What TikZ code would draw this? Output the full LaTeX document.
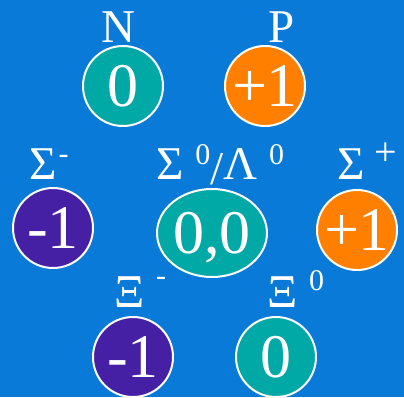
\documentclass[tikz,border=0pt]{standalone}
\usepackage{fontspec}
\setmainfont{Liberation Serif}
\usetikzlibrary{positioning, shapes.geometric}
\definecolor{bgblue}{HTML}{0A7AD9}
\definecolor{quarkteal}{HTML}{00A8A6}
\definecolor{quarkorange}{HTML}{FF8000}
\definecolor{quarkpurple}{HTML}{4520A5}
\newcommand{\chargeup}[2][16pt]{\raisebox{#1}{\fontsize{30}{30}\selectfont #2}}

\begin{document}
\begin{tikzpicture}[x=1pt,y=-1pt,
    charge/.style={circle, draw=white, line width=2pt, inner sep=0pt, minimum size=80pt,
        text=white, font=\fontsize{62}{62}\selectfont, text depth=0pt},
    particle/.style={text=white, font=\fontsize{47}{47}\selectfont, inner sep=0pt}]
    \fill[bgblue] (0,0) rectangle (404,397); %背景
    % 1段目
    \node[charge, fill=quarkteal] (n) at (123,86) {0};
    \node[charge, fill=quarkorange] (p) at (265,86) {+1};
    \node[particle, anchor=base] (nname) at (118,43) {N};
    \node[particle, anchor=base] (pname) at (282,43) {P};
    % 2段目
    \node[charge, fill=quarkpurple] (sigmam) at (53,228) {-1};
    \node[ellipse, draw=white, line width=2pt, inner sep=0pt, minimum width=110pt, minimum height=88pt,
        fill=quarkteal, text=white, font=\fontsize{62}{62}\selectfont, text depth=0pt] (sigmaz) at (212,233) {0,0};
    \node[charge, fill=quarkorange] (sigmap) at (357,230) {+1};
    \node[particle, anchor=base west] (sigmamname) at (29,180) {Σ\hspace{2pt}\chargeup[17pt]{-}};
    \node[particle, anchor=base west] (sigmazname) at (156,180) {Σ \chargeup[15pt]{0}\raisebox{-5pt}{/}Λ \chargeup[15pt]{0}};
    \node[particle, anchor=base west] (sigmapname) at (337,180) {Σ\hspace{10pt}\chargeup[14pt]{\fontsize{40}{40}\selectfont +}};
    % 3段目
    \node[charge, fill=quarkpurple] (xim) at (133,357) {-1};
    \node[charge, fill=quarkteal] (xiz) at (276,357) {0};
    \node[particle, anchor=base west] (ximname) at (114,307) {Ξ \chargeup[22pt]{-}};
    \node[particle, anchor=base west] (xizname) at (267,307) {Ξ \chargeup[17pt]{0}};
\end{tikzpicture}
\end{document}
